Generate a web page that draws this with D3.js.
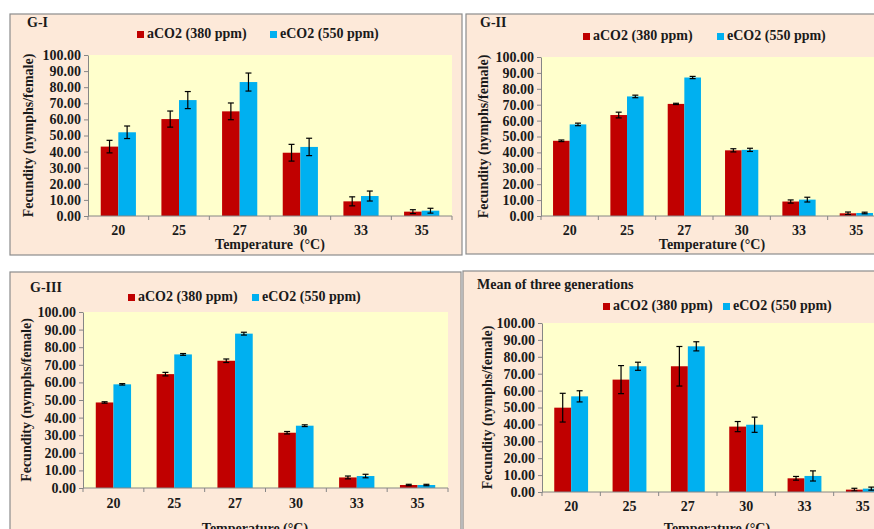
<!DOCTYPE html>
<html><head><meta charset="utf-8">
<script src="https://cdn.jsdelivr.net/npm/d3@7"></script>
<style>
html,body{margin:0;padding:0;background:#fff;}
svg{display:block;}
text{font-family:"Liberation Serif","Times New Roman",serif;font-weight:bold;fill:#1a1a1a;}
</style></head>
<body>
<svg id="chart" width="874" height="529"></svg>
<script>
// ---- data ----
const categories = ["20", "25", "27", "30", "33", "35"];
const seriesNames = ["aCO2 (380 ppm)", "eCO2 (550 ppm)"];
const yTicks = [0, 10, 20, 30, 40, 50, 60, 70, 80, 90, 100];

const g1_aCO2 = [43.1, 60.2, 65.0, 39.3, 9.1, 2.7];
const g1_aCO2_se = [3.9, 5.0, 5.2, 5.2, 2.8, 1.2];
const g1_eCO2 = [52.0, 72.0, 83.2, 42.9, 12.4, 3.3];
const g1_eCO2_se = [3.9, 5.3, 5.6, 5.4, 3.1, 1.5];

const g2_aCO2 = [47.3, 63.5, 70.5, 41.3, 9.1, 1.7];
const g2_aCO2_se = [0.5, 1.8, 0.4, 1.0, 1.0, 0.8];
const g2_eCO2 = [57.6, 75.2, 87.1, 41.6, 10.3, 1.9];
const g2_eCO2_se = [0.8, 0.8, 0.7, 1.0, 1.5, 0.5];

const g3_aCO2 = [48.6, 64.7, 72.3, 31.4, 6.0, 1.7];
const g3_aCO2_se = [0.4, 1.0, 1.0, 0.7, 0.8, 0.4];
const g3_eCO2 = [58.9, 75.9, 87.7, 35.4, 6.8, 1.7];
const g3_eCO2_se = [0.4, 0.5, 0.8, 0.5, 1.0, 0.4];

const mean_aCO2 = [49.9, 66.5, 74.4, 38.7, 8.1, 1.4];
const mean_aCO2_se = [8.5, 8.3, 11.7, 3.0, 1.1, 0.8];
const mean_eCO2 = [56.6, 74.4, 86.2, 39.8, 9.5, 2.0];
const mean_eCO2_se = [3.3, 2.4, 2.7, 4.5, 3.0, 0.9];

const colors = ["#C00000", "#00B0F0"];

// ---- layout (positions only) ----
const panels = [
  {title: "G-I", xTitle: "Temperature  (\u00B0C)", box: [10, 14, 452, 241],
   plot: {x0: 88, x1: 452, y0: 55, y1: 216}, titlePos: [27, 27],
   legend: {y: 38, sq: [137, 270]}, yTitleX: 28, xLabelY: 235, xTitleY: 249, xTitleX: 270,
   a: g1_aCO2, ae: g1_aCO2_se, e: g1_eCO2, ee: g1_eCO2_se},
  {title: "G-II", xTitle: "Temperature (\u00B0C)", box: [466, 14, 420, 240],
   plot: {x0: 541, x1: 885, y0: 57, y1: 216}, titlePos: [480, 27],
   legend: {y: 40, sq: [583, 717]}, yTitleX: 483, xLabelY: 235, xTitleY: 249, xTitleX: 712,
   a: g2_aCO2, ae: g2_aCO2_se, e: g2_eCO2, ee: g2_eCO2_se},
  {title: "G-III", xTitle: "Temperature (\u00B0C)", box: [10, 272, 451, 270],
   plot: {x0: 83, x1: 448, y0: 312, y1: 488}, titlePos: [30, 292],
   legend: {y: 301, sq: [128, 252]}, yTitleX: 26, xLabelY: 508, xTitleY: 533, xTitleX: 255,
   a: g3_aCO2, ae: g3_aCO2_se, e: g3_eCO2, ee: g3_eCO2_se},
  {title: "Mean of three generations", xTitle: "Temperature (\u00B0C)", box: [463, 271, 420, 270],
   plot: {x0: 542, x1: 892, y0: 323, y1: 492}, titlePos: [477, 289],
   legend: {y: 310, sq: [603, 723]}, yTitleX: 487, xLabelY: 511, xTitleY: 533, xTitleX: 717,
   a: mean_aCO2, ae: mean_aCO2_se, e: mean_eCO2, ee: mean_eCO2_se}
];

const svg = d3.select("#chart");

panels.forEach(p => {
  const g = svg.append("g");
  // panel background
  g.append("rect").attr("x", p.box[0]).attr("y", p.box[1])
    .attr("width", p.box[2]).attr("height", p.box[3])
    .attr("fill", "#FDE9D9").attr("stroke", "#8C8C8C").attr("stroke-width", 1.2);

  const x0 = d3.scaleBand().domain(categories).range([p.plot.x0, p.plot.x1])
    .paddingInner(0.42).paddingOuter(0.21);
  const x1 = d3.scaleBand().domain(seriesNames).range([0, x0.bandwidth()]);
  const y = d3.scaleLinear().domain([0, 100]).range([p.plot.y1, p.plot.y0]);

  // plot area
  g.append("rect").attr("x", p.plot.x0).attr("y", y(100))
    .attr("width", p.plot.x1 - p.plot.x0).attr("height", y(0) - y(100))
    .attr("fill", "#FFFFCC");

  const rows = categories.map((c, i) => ({
    cat: c,
    vals: [
      {s: seriesNames[0], v: p.a[i], e: p.ae[i], c: colors[0]},
      {s: seriesNames[1], v: p.e[i], e: p.ee[i], c: colors[1]}
    ]
  }));

  const grp = g.selectAll("g.cat").data(rows).join("g")
    .attr("transform", d => `translate(${x0(d.cat)},0)`);
  grp.selectAll("rect").data(d => d.vals).join("rect")
    .attr("x", d => x1(d.s)).attr("width", x1.bandwidth())
    .attr("y", d => y(d.v)).attr("height", d => y(0) - y(d.v))
    .attr("fill", d => d.c);
  // error bars
  const eb = grp.selectAll("g.err").data(d => d.vals).join("g")
    .attr("stroke", "#000").attr("stroke-width", 1.2);
  eb.append("line")
    .attr("x1", d => x1(d.s) + x1.bandwidth() / 2).attr("x2", d => x1(d.s) + x1.bandwidth() / 2)
    .attr("y1", d => y(d.v + d.e)).attr("y2", d => y(Math.max(0, d.v - d.e)));
  eb.append("line")
    .attr("x1", d => x1(d.s) + x1.bandwidth() / 2 - 3).attr("x2", d => x1(d.s) + x1.bandwidth() / 2 + 3)
    .attr("y1", d => y(d.v + d.e)).attr("y2", d => y(d.v + d.e));
  eb.append("line")
    .attr("x1", d => x1(d.s) + x1.bandwidth() / 2 - 3).attr("x2", d => x1(d.s) + x1.bandwidth() / 2 + 3)
    .attr("y1", d => y(Math.max(0, d.v - d.e))).attr("y2", d => y(Math.max(0, d.v - d.e)));

  // y axis
  const yAx = g.append("g").attr("transform", `translate(${p.plot.x0},0)`)
    .call(d3.axisLeft(y).tickValues(yTicks).tickFormat(d3.format(".2f")).tickSize(4).tickSizeOuter(0).tickPadding(3));
  yAx.selectAll("path,line").attr("stroke", "#868686");
  yAx.selectAll("text").attr("font-size", 14).attr("font-family", "Liberation Serif").attr("font-weight", "bold").attr("fill", "#1a1a1a");

  // x axis line with boundary ticks
  const xAx = g.append("g").attr("transform", `translate(0,${y(0)})`);
  xAx.append("line").attr("x1", p.plot.x0).attr("x2", p.plot.x1).attr("stroke", "#868686");
  const bounds = categories.map(c => x0(c) - x0.step() * x0.paddingInner() / 2).concat([p.plot.x1]);
  xAx.selectAll("line.tk").data(bounds).join("line").attr("class", "tk")
    .attr("x1", d => d).attr("x2", d => d).attr("y1", 0).attr("y2", 4).attr("stroke", "#868686");
  xAx.selectAll("text").data(categories).join("text")
    .attr("x", d => x0(d) + x0.bandwidth() / 2).attr("y", p.xLabelY - y(0))
    .attr("text-anchor", "middle").attr("font-size", 14).text(d => d);

  // titles
  g.append("text").attr("x", p.titlePos[0]).attr("y", p.titlePos[1]).attr("font-size", 14).text(p.title);
  g.append("text").attr("x", p.xTitleX).attr("y", p.xTitleY).attr("text-anchor", "middle")
    .attr("font-size", 14).style("white-space", "pre").text(p.xTitle);
  g.append("text").attr("transform", `translate(${p.yTitleX},${(p.plot.y0 + p.plot.y1) / 2}) rotate(-90)`)
    .attr("text-anchor", "middle").attr("dy", "0.35em").attr("font-size", 14).text("Fecundity (nymphs/female)");

  // legend
  seriesNames.forEach((s, i) => {
    g.append("rect").attr("x", p.legend.sq[i]).attr("y", p.legend.y - 7).attr("width", 7).attr("height", 7).attr("fill", colors[i]);
    g.append("text").attr("x", p.legend.sq[i] + 10).attr("y", p.legend.y).attr("font-size", 14).text(s);
  });
});
</script>
</body></html>
